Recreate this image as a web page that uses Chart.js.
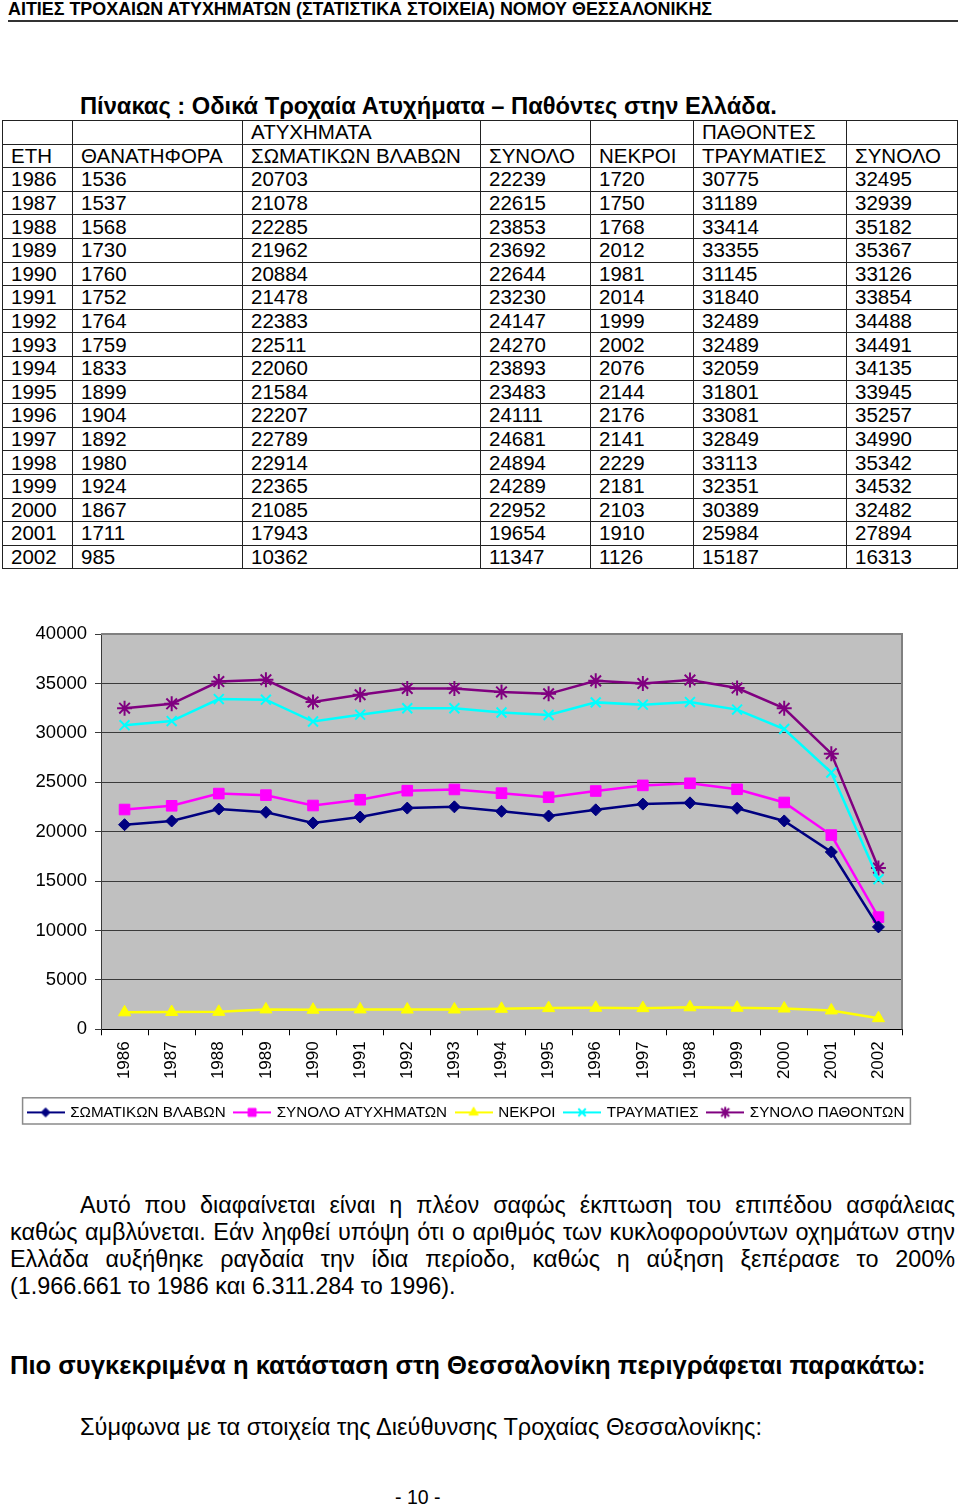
<!DOCTYPE html>
<html>
<head>
<meta charset="utf-8">
<script src="https://cdn.jsdelivr.net/npm/chart.js@4.4.1/dist/chart.umd.min.js"></script>
<style>
  body { margin: 0; width: 960px; height: 1506px; position: relative; overflow: hidden;
         background: #fff; color: #000; font-family: "Liberation Sans", Arial, sans-serif; }
  .abs { position: absolute; white-space: nowrap; }
  #hdr { left: 8px; top: -1px; font-size: 17.9px; font-weight: bold; line-height: 20px; }
  #rule { left: 8px; top: 20px; width: 950px; border-top: 2px solid #333; }
  #title { left: 80px; top: 92px; font-size: 23.7px; font-weight: bold; line-height: 28px; }
  #tbl { position: absolute; left: 2px; top: 120px; width: 955px; border-collapse: collapse;
         font-size: 20.5px; table-layout: fixed; }
  #tbl td { border: 1px solid #222; height: 22.6px; padding: 0 0 0 8px; line-height: 20px;
            white-space: nowrap; overflow: hidden; }
  #chartBox { position: absolute; left: 0; top: 612px; }
  #para { position: absolute; left: 10px; top: 1192px; width: 945px; font-size: 23.4px; line-height: 27px; }
  #para div { text-align: justify; text-align-last: justify; white-space: nowrap; }
  #para div.last { text-align-last: left; }
  #sub { left: 10px; top: 1351px; font-size: 25.6px; font-weight: bold; line-height: 28px; }
  #src { left: 80px; top: 1413px; font-size: 23.6px; line-height: 28px; }
  #page { left: 395px; top: 1486px; font-size: 19.5px; line-height: 22px; }
</style>
</head>
<body>
<div id="hdr" class="abs">ΑΙΤΙΕΣ ΤΡΟΧΑΙΩΝ ΑΤΥΧΗΜΑΤΩΝ (ΣΤΑΤΙΣΤΙΚΑ ΣΤΟΙΧΕΙΑ) ΝΟΜΟΥ ΘΕΣΣΑΛΟΝΙΚΗΣ</div>
<div id="rule" class="abs"></div>
<div id="title" class="abs">Πίνακας : Οδικά Τροχαία Ατυχήματα – Παθόντες στην Ελλάδα.</div>
<table id="tbl"></table>
<div id="chartBox"><canvas id="chart" width="960" height="530"></canvas></div>
<div id="para">
  <div style="text-indent:70px">Αυτό που διαφαίνεται είναι η πλέον σαφώς έκπτωση του επιπέδου ασφάλειας</div>
  <div>καθώς αμβλύνεται. Εάν ληφθεί υπόψη ότι ο αριθμός των κυκλοφορούντων οχημάτων στην</div>
  <div>Ελλάδα αυξήθηκε ραγδαία την ίδια περίοδο, καθώς η αύξηση ξεπέρασε το 200%</div>
  <div class="last">(1.966.661 το 1986 και 6.311.284 το 1996).</div>
</div>
<div id="sub" class="abs">Πιο συγκεκριμένα η κατάσταση στη Θεσσαλονίκη περιγράφεται παρακάτω:</div>
<div id="src" class="abs">Σύμφωνα με τα στοιχεία της Διεύθυνσης Τροχαίας Θεσσαλονίκης:</div>
<div id="page" class="abs">- 10 -</div>

<script>
const years = ["1986", "1987", "1988", "1989", "1990", "1991", "1992", "1993", "1994",
               "1995", "1996", "1997", "1998", "1999", "2000", "2001", "2002"];
const fatalAcc   = [1536, 1537, 1568, 1730, 1760, 1752, 1764, 1759, 1833, 1899, 1904, 1892, 1980, 1924, 1867, 1711, 985];
const injuryAcc  = [20703, 21078, 22285, 21962, 20884, 21478, 22383, 22511, 22060, 21584, 22207, 22789, 22914, 22365, 21085, 17943, 10362];
const totalAcc   = [22239, 22615, 23853, 23692, 22644, 23230, 24147, 24270, 23893, 23483, 24111, 24681, 24894, 24289, 22952, 19654, 11347];
const killed     = [1720, 1750, 1768, 2012, 1981, 2014, 1999, 2002, 2076, 2144, 2176, 2141, 2229, 2181, 2103, 1910, 1126];
const injured    = [30775, 31189, 33414, 33355, 31145, 31840, 32489, 32489, 32059, 31801, 33081, 32849, 33113, 32351, 30389, 25984, 15187];
const totalVict  = [32495, 32939, 35182, 35367, 33126, 33854, 34488, 34491, 34135, 33945, 35257, 34990, 35342, 34532, 32482, 27894, 16313];

const headRow1 = ["", "", "ΑΤΥΧΗΜΑΤΑ", "", "", "ΠΑΘΟΝΤΕΣ", ""];
const headRow2 = ["ΕΤΗ", "ΘΑΝΑΤΗΦΟΡΑ", "ΣΩΜΑΤΙΚΩΝ ΒΛΑΒΩΝ", "ΣΥΝΟΛΟ", "ΝΕΚΡΟΙ", "ΤΡΑΥΜΑΤΙΕΣ", "ΣΥΝΟΛΟ"];
const seriesNames = ["ΣΩΜΑΤΙΚΩΝ ΒΛΑΒΩΝ", "ΣΥΝΟΛΟ ΑΤΥΧΗΜΑΤΩΝ", "ΝΕΚΡΟΙ", "ΤΡΑΥΜΑΤΙΕΣ", "ΣΥΝΟΛΟ ΠΑΘΟΝΤΩΝ"];
const yMax = 40000, yStep = 5000;

// table
const colWidths = [70, 170, 238, 110, 103, 153, 111];
const tbl = document.getElementById("tbl");
const cg = document.createElement("colgroup");
colWidths.forEach(w => { const c = document.createElement("col"); c.style.width = w + "px"; cg.appendChild(c); });
tbl.appendChild(cg);
function addRow(cells) {
    const tr = document.createElement("tr");
    cells.forEach(v => { const td = document.createElement("td"); td.textContent = v; tr.appendChild(td); });
    tbl.appendChild(tr);
}
addRow(headRow1);
addRow(headRow2);
years.forEach((y, i) => addRow([y, fatalAcc[i], injuryAcc[i], totalAcc[i], killed[i], injured[i], totalVict[i]]));

// chart
const styles = [
    { color: "#000080", point: "rectRot", r: 6, bw: 1 },
    { color: "#ff00ff", point: "rect", r: 7.5, bw: 1 },
    { color: "#ffff00", point: "triangle", r: 7, bw: 1 },
    { color: "#00ffff", point: "crossRot", r: 7, bw: 2 },
    { color: "#800080", point: "star", r: 7.5, bw: 2 }
];
const values = [injuryAcc, totalAcc, killed, injured, totalVict];

function legendIcon(s) {
    const c = document.createElement("canvas");
    c.width = 38; c.height = 16;
    const g = c.getContext("2d");
    g.strokeStyle = s.color; g.lineWidth = 2;
    g.beginPath(); g.moveTo(0, 8); g.lineTo(38, 8); g.stroke();
    g.fillStyle = s.color; g.lineWidth = s.bw;
    Chart.helpers.drawPoint(g, { pointStyle: s.point, radius: s.r * 0.75, borderWidth: s.bw, rotation: 0 }, 19, 8);
    return c;
}
const icons = styles.map(legendIcon);

const pagePlugin = {
    id: "pagePlugin",
    beforeDraw(chart) {
        const { ctx, chartArea: a } = chart;
        ctx.save();
        ctx.fillStyle = "#c0c0c0";
        ctx.fillRect(a.left, a.top, a.width, a.height);
        ctx.restore();
    },
    afterDraw(chart) {
        const { ctx, chartArea: a } = chart;
        ctx.save();
        ctx.strokeStyle = "#808080";
        ctx.lineWidth = 2;
        ctx.beginPath();
        ctx.moveTo(a.left, a.top); ctx.lineTo(a.right, a.top); ctx.lineTo(a.right, a.bottom);
        ctx.stroke();
        const hb = chart.legend.legendHitBoxes;
        if (hb && hb.length) {
            const l = hb[0].left - 6, r = hb[hb.length - 1].left + hb[hb.length - 1].width + 6;
            const t = hb[0].top - 7, b = hb[0].top + hb[0].height + 4;
            ctx.strokeStyle = "#8a8a8a";
            ctx.lineWidth = 1.5;
            ctx.strokeRect(l, t, r - l, b - t);
        }
        ctx.restore();
    }
};

new Chart(document.getElementById("chart").getContext("2d"), {
    type: "line",
    data: {
        labels: years,
        datasets: seriesNames.map((name, i) => ({
            label: name,
            data: values[i],
            borderColor: styles[i].color,
            backgroundColor: styles[i].color,
            borderWidth: 2.5,
            pointStyle: styles[i].point,
            pointRadius: styles[i].r,
            pointBorderWidth: styles[i].bw,
            pointBackgroundColor: styles[i].color,
            pointBorderColor: styles[i].color,
            tension: 0,
            fill: false
        }))
    },
    options: {
        responsive: false,
        animation: false,
        devicePixelRatio: 1,
        layout: { padding: { top: 22, right: 27, left: 0, bottom: 12 } },
        plugins: {
            tooltip: { enabled: false },
            legend: {
                position: "bottom",
                labels: {
                    usePointStyle: true,
                    pointStyleWidth: 34,
                    padding: 9.5,
                    color: "#000",
                    font: { family: "Liberation Sans", size: 15.2 },
                    generateLabels(chart) {
                        const items = Chart.defaults.plugins.legend.labels.generateLabels(chart);
                        items.forEach((it, i) => { it.pointStyle = icons[i]; it.fontColor = "#000"; });
                        return items;
                    }
                }
            }
        },
        scales: {
            x: {
                offset: true,
                grid: { display: true, drawOnChartArea: false, offset: true, tickLength: 6, color: "#000" },
                border: { color: "#000", width: 1 },
                ticks: { minRotation: 90, maxRotation: 90, autoSkip: false, padding: 6, color: "#000",
                         font: { family: "Liberation Sans", size: 17 } },
                afterFit(s) { s.height = 66; }
            },
            y: {
                min: 0, max: yMax,
                ticks: { stepSize: yStep, padding: 8, color: "#000",
                         font: { family: "Liberation Sans", size: 18.5 },
                         callback: v => String(v) },
                grid: { color: "#3a3a3a", tickLength: 6, lineWidth: 1 },
                border: { color: "#3a3a3a", width: 1 },
                afterFit(s) { s.width = 101; }
            },
            yRight: {
                position: "right",
                display: true,
                grid: { display: false },
                ticks: { display: false },
                border: { display: false },
                afterFit(s) { s.width = 31; }
            }
        }
    },
    plugins: [pagePlugin]
});
</script>
</body>
</html>
